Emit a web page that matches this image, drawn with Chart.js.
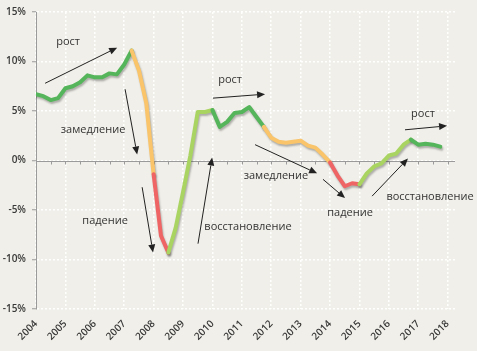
<!DOCTYPE html>
<html><head><meta charset="utf-8">
<script src="https://cdn.jsdelivr.net/npm/chart.js@4"></script>
<style>html,body{margin:0;padding:0;background:#f0efe9;overflow:hidden}</style>
</head><body>
<canvas id="c" width="477" height="351"></canvas>
<script>
// ---- data ----
const startYear = 2004;            // first quarter of the series = 2004 Q1
const years = [2004,2005,2006,2007,2008,2009,2010,2011,2012,2013,2014,2015,2016,2017,2018];
const yTicks = [15,10,5,0,-5,-10,-15];
// quarterly values, %
const values = [
  6.7, 6.5, 6.1, 6.3, 7.3, 7.5, 7.9, 8.6, 8.4, 8.4, 8.8, 8.7, 9.7, 11.1,
  9.1, 5.8, -1.4, -7.6, -9.3, -6.8, -3.2, 0.5, 4.9, 4.9, 5.1,
  3.4, 3.9, 4.8, 4.9, 5.4, 4.4, 3.4,
  2.3, 1.9, 1.8, 1.9, 2.0, 1.5, 1.3, 0.6, -0.2,
  -1.5, -2.6, -2.3, -2.4,
  -1.3, -0.6, -0.3, 0.5, 0.7, 1.6, 2.1,
  1.6, 1.7, 1.6, 1.4
];
// phases: index of the first point of each phase and its name
const phaseStart = [0, 13, 16, 18, 24, 31, 40, 44, 51];
const phaseKind  = ['рост','замедление','падение','восстановление','рост','замедление','падение','восстановление','рост'];

// ---- annotations (data coordinates: year, %) ----
const noteText = ['рост','замедление','падение','восстановление','рост','замедление','падение','восстановление','рост'];
const noteX = [2005.09, 2005.94, 2006.35, 2011.21, 2010.60, 2012.16, 2014.68, 2017.40, 2017.16];
const noteY = [12.0, 3.1, -6.1, -6.7, 8.1, -1.6, -5.3, -3.7, 4.7];
const arrowX1 = [2004.31, 2007.03, 2007.61, 2009.51, 2010.02, 2011.45, 2013.76, 2015.43, 2016.55];
const arrowY1 = [7.8, 7.2, -2.7, -8.4, 6.3, 1.6, -1.9, -3.6, 3.1];
const arrowX2 = [2006.76, 2007.44, 2007.98, 2009.99, 2011.79, 2013.56, 2014.51, 2016.65, 2017.98];
const arrowY2 = [11.4, 0.6, -9.3, 0.3, 6.7, -1.3, -3.8, 0.2, 3.5];

// ---- styles ----
const phaseColor = {'рост':'#55b55a','замедление':'#f9c46a','падение':'#ef6464','восстановление':'#a9d462'};
const FONT = "'Open Sans', 'DejaVu Sans', sans-serif";

function colorAt(i){
  let k = 0;
  for (let j = 0; j < phaseStart.length; j++) if (phaseStart[j] <= i) k = j;
  return phaseColor[phaseKind[k]];
}

const points = values.map((v, i) => ({x: startYear + i / 4, y: v}));

const bgPlugin = {
  id: 'bg',
  beforeDraw(chart){
    const c = chart.ctx;
    c.save(); c.fillStyle = '#f0efe9'; c.fillRect(0,0,chart.width,chart.height); c.restore();
  }
};
const zeroAxisPlugin = {
  id: 'zeroAxis',
  beforeDatasetsDraw(chart){
    const c = chart.ctx, xs = chart.scales.x, ys = chart.scales.y, a = chart.chartArea;
    const y0 = Math.round(ys.getPixelForValue(0)) + 0.5;
    c.save();
    c.strokeStyle = '#9a9a9a'; c.lineWidth = 1;
    c.beginPath(); c.moveTo(a.left, y0); c.lineTo(a.right, y0); c.stroke();
    for (let t = years[0] + 0.5; t <= years[years.length-1] + 0.01; t += 0.5) {
      const x = Math.round(xs.getPixelForValue(t)) + 0.5;
      c.beginPath(); c.moveTo(x, y0); c.lineTo(x, y0 + 3); c.stroke();
    }
    c.restore();
  }
};
const shadowPlugin = {
  id: 'shadow',
  beforeDatasetDraw(chart){
    const c = chart.ctx; c.save();
    c.shadowColor = 'rgba(0,0,0,0.28)'; c.shadowBlur = 2; c.shadowOffsetX = 1; c.shadowOffsetY = 2;
  },
  afterDatasetDraw(chart){ chart.ctx.restore(); }
};
const notesPlugin = {
  id: 'notes',
  afterDatasetsDraw(chart){
    const c = chart.ctx, xs = chart.scales.x, ys = chart.scales.y;
    c.save();
    c.strokeStyle = '#222'; c.fillStyle = '#222'; c.lineWidth = 1;
    for (let i = 0; i < arrowX1.length; i++) {
      const x1 = xs.getPixelForValue(arrowX1[i]), y1 = ys.getPixelForValue(arrowY1[i]);
      const x2 = xs.getPixelForValue(arrowX2[i]), y2 = ys.getPixelForValue(arrowY2[i]);
      const ang = Math.atan2(y2 - y1, x2 - x1), L = 8, W = 3.5;
      const bx = x2 - L * Math.cos(ang), by = y2 - L * Math.sin(ang);
      c.beginPath(); c.moveTo(x1, y1); c.lineTo(bx, by); c.stroke();
      c.beginPath();
      c.moveTo(x2, y2);
      c.lineTo(bx + W * Math.sin(ang), by - W * Math.cos(ang));
      c.lineTo(bx - W * Math.sin(ang), by + W * Math.cos(ang));
      c.closePath(); c.fill();
    }
    c.fillStyle = '#333';
    c.font = '11px ' + FONT; c.textAlign = 'center'; c.textBaseline = 'middle';
    for (let i = 0; i < noteText.length; i++) {
      c.fillText(noteText[i], xs.getPixelForValue(noteX[i]), ys.getPixelForValue(noteY[i]));
    }
    c.restore();
  }
};

new Chart(document.getElementById('c'), {
  type: 'line',
  data: {
    datasets: [{
      data: points,
      borderWidth: 4,
      borderColor: phaseColor['рост'],
      pointRadius: 0,
      tension: 0,
      borderCapStyle: 'round',
      borderJoinStyle: 'round',
      segment: { borderColor: ctx => colorAt(ctx.p0DataIndex) }
    }]
  },
  options: {
    responsive: false,
    animation: false,
    devicePixelRatio: 1,
    layout: { padding: { top: 9, right: 22, left: 0, bottom: 0 } },
    plugins: { legend: { display: false }, tooltip: { enabled: false } },
    scales: {
      x: {
        type: 'linear', min: years[0], max: years[years.length-1] + 0.25,
        afterFit(s){ s.height = 42; },
        ticks: {
          stepSize: 1, autoSkip: false, includeBounds: false,
          minRotation: 45, maxRotation: 45, padding: 9,
          color: '#383838', font: { family: FONT, size: 10, weight: '600' },
          callback: v => years.includes(v) ? String(v) : ''
        },
        grid: { color: 'rgba(255,255,255,0.95)', lineWidth: 1.5, drawTicks: false },
        border: { display: false, dash: [2, 2] }
      },
      y: {
        min: yTicks[yTicks.length-1], max: yTicks[0],
        afterFit(s){ s.width = 36; },
        ticks: {
          stepSize: 5, padding: 6,
          color: '#383838', font: { family: FONT, size: 10, weight: '600' },
          callback: v => yTicks.includes(v) ? v + '%' : ''
        },
        grid: { color: 'rgba(255,255,255,0.95)', lineWidth: 1.5, tickColor: '#9a9a9a', tickLength: 4, tickWidth: 1 },
        border: { display: true, color: '#9a9a9a', width: 1, dash: [2, 2] }
      }
    }
  },
  plugins: [bgPlugin, zeroAxisPlugin, shadowPlugin, notesPlugin]
});
</script>
</body></html>
